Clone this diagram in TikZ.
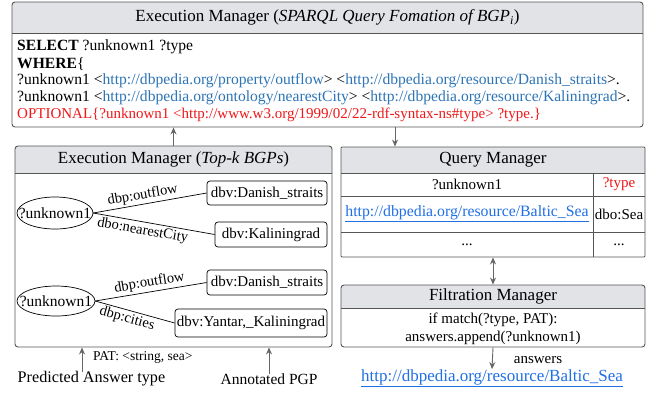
\documentclass[tikz,border=0pt]{standalone}
\usepackage{fontspec}
\setmainfont{Liberation Serif}
\usetikzlibrary{shapes.geometric,arrows.meta,calc}
\definecolor{bordergray}{HTML}{555555}
\definecolor{headfill}{HTML}{E1E3E7}
\definecolor{arrgray}{HTML}{666666}
\definecolor{urlblue}{HTML}{2E75B6}
\definecolor{linkblue}{HTML}{1F6FE5}
\definecolor{sparqlred}{HTML}{F01818}
\newcommand\myfs[1]{\fontsize{#1}{#1}\selectfont}
\tikzset{
  box/.style={draw=bordergray, line width=0.9pt, rounded corners=3pt, inner sep=0pt, rectangle},
  headtext/.style={font=\myfs{17}, inner sep=0pt},
  bodytext/.style={font=\myfs{15.6}, inner sep=0pt, anchor=west},
  gnode/.style={draw=black, line width=0.7pt, rounded corners=3pt, inner sep=0pt, font=\myfs{15}},
  gell/.style={rectangle, inner sep=0pt, font=\myfs{15.5}},
  gellline/.style={draw=black, line width=0.7pt},
  gedge/.style={draw=black, line width=0.7pt},
  elabel/.style={font=\myfs{14.5}, sloped, inner sep=2pt},
  arr/.style={draw=arrgray, line width=0.9pt, -{Stealth[length=7pt,width=6pt]}},
  darr/.style={draw=arrgray, line width=0.9pt, {Stealth[length=7pt,width=6pt]}-{Stealth[length=7pt,width=6pt]}},
  cell/.style={font=\myfs{15}, inner sep=0pt},
}
\begin{document}
\begin{tikzpicture}[x=1pt,y=-1pt]
\useasboundingbox (0,0) rectangle (655,394);
% ---------- top box ----------
\fill[white] (12,2) rectangle (643,127);
\fill[headfill, rounded corners=3pt] (12,2) rectangle (643,33);
\fill[headfill] (12,20) rectangle (643,33);
\draw[bordergray, line width=0.9pt] (12,33) -- (643,33);
\node[box, minimum width=631pt, minimum height=125pt] (tbox) at (327.5,64.5) {};
\node[headtext] (thead) at (327.5,17.5) {Execution Manager (\textit{SPARQL Query Fomation of BGP\textsubscript{i}})};
\node[bodytext] (l1) at (17,47) {\textbf{SELECT} ?unknown1 ?type};
\node[bodytext] (l2) at (17,64) {\textbf{WHERE}\{};
\node[bodytext] (l3) at (17,81) {?unknown1 <\textcolor{urlblue}{http://dbpedia.org/property/outflow}> <\textcolor{urlblue}{http://dbpedia.org/resource/Danish\_straits}>.};
\node[bodytext] (l4) at (17,98) {?unknown1 <\textcolor{urlblue}{http://dbpedia.org/ontology/nearestCity}> <\textcolor{urlblue}{http://dbpedia.org/resource/Kaliningrad}>.};
\node[bodytext, text=sparqlred, font=\myfs{15}] (l5) at (17,115) {OPTIONAL\{?unknown1 <http://www.w3.org/1999/02/22-rdf-syntax-ns\#type> ?type.\}};
% ---------- left box ----------
\fill[white] (15,146) rectangle (332,347);
\fill[headfill, rounded corners=3pt] (15,146) rectangle (332,173);
\fill[headfill] (15,160) rectangle (332,173);
\draw[bordergray, line width=0.9pt] (15,173) -- (332,173);
\node[box, minimum width=317pt, minimum height=201pt] (lbox) at (173.5,246.5) {};
\node[headtext] (lhead) at (173.5,159.5) {Execution Manager (\textit{Top-k BGPs})};
% graph 1
\node[gell, minimum width=76pt, minimum height=32pt] (e1) at (55,213) {?unknown1};
\draw[gellline] (e1.center) ellipse [x radius=38pt, y radius=16pt];
\node[gnode, minimum width=120pt, minimum height=24pt] (r1) at (267,193) {dbv:Danish\_straits};
\node[gnode, minimum width=112pt, minimum height=25pt] (r2) at (271,234.5) {dbv:Kaliningrad};
\draw[gedge] (e1.east) -- node[elabel, above, pos=0.45] {dbp:outflow} (r1.west);
\draw[gedge] (e1.east) -- node[elabel, below, pos=0.42] {dbo:nearestCity} (r2.west);
% graph 2
\node[gell, minimum width=78pt, minimum height=30pt] (e2) at (56,301) {?unknown1};
\draw[gellline] (e2.center) ellipse [x radius=39pt, y radius=15pt];
\node[gnode, minimum width=120pt, minimum height=25pt] (r3) at (267,282.5) {dbv:Danish\_straits};
\node[gnode, minimum width=152pt, minimum height=28pt] (r4) at (251,323) {dbv:Yantar,\_Kaliningrad};
\draw[gedge] (e2.east) -- node[elabel, above, pos=0.5] {dbp:outflow} (r3.west);
\draw[gedge] (e2.east) -- node[elabel, below, pos=0.43] {dbp:cities} (r4.west);
% ---------- query manager ----------
\fill[white] (341,147) rectangle (645,257);
\fill[headfill, rounded corners=3pt] (341,147) rectangle (645,173);
\fill[headfill] (341,160) rectangle (645,173);
\draw[bordergray, line width=0.9pt] (341,173) -- (645,173);
\draw[bordergray, line width=0.9pt] (341,196) -- (645,196);
\draw[bordergray, line width=0.9pt] (341,232) -- (645,232);
\draw[bordergray, line width=0.9pt] (593,173) -- (593,257);
\node[box, minimum width=304pt, minimum height=110pt, rounded corners=1pt] (qm) at (493,202) {};
\node[headtext] (qhead) at (493,160) {Query Manager};
\node[cell] (c11) at (467,184.5) {?unknown1};
\node[cell, text=sparqlred] (c12) at (619,184.5) {?type};
\node[cell, text=linkblue, font=\myfs{15.8}] (c21) at (467,214) {\underline{http://dbpedia.org/resource/Baltic\_Sea}};
\node[cell] (c22) at (619,214) {dbo:Sea};
\node[cell] (c31) at (467,244.5) {...};
\node[cell] (c32) at (619,244.5) {...};
% ---------- filtration manager ----------
\fill[white] (341,285) rectangle (645,347);
\fill[headfill, rounded corners=3pt] (341,285) rectangle (645,308);
\fill[headfill] (341,297) rectangle (645,308);
\draw[bordergray, line width=0.9pt] (341,308) -- (645,308);
\node[box, minimum width=304pt, minimum height=62pt] (fm) at (493,316) {};
\node[headtext] (fhead) at (493,296.5) {Filtration Manager};
\node[cell] (f1) at (493,320) {if match(?type, PAT):};
\node[cell] (f2) at (493,338) {answers.append(?unknown1)};
% ---------- outside labels ----------
\node[font=\myfs{15}, inner sep=0pt] (ans) at (538,360) {answers};
\node[font=\myfs{17}, inner sep=0pt, text=linkblue] (link) at (492,378) {\underline{http://dbpedia.org/resource/Baltic\_Sea}};
\node[font=\myfs{16.2}, inner sep=0pt] (pred) at (91.5,379) {Predicted Answer type};
\node[font=\myfs{15.5}, inner sep=0pt] (annot) at (269,379) {Annotated PGP};
\node[font=\myfs{13.5}, inner sep=0pt, anchor=west] (pat) at (93,357) {PAT: <string, sea>};
% ---------- connectors ----------
\coordinate (qx) at (395,0);
\coordinate (px) at (82,0);
\draw[arr] (lbox.north) -- (lbox.north |- tbox.south);
\draw[arr] (tbox.south -| qx) -- (qm.north -| qx);
\draw[darr] (qm.south) -- (fm.north);
\draw[arr] (fm.south) -- (link.north);
\draw[arr] ([yshift=-1pt]pred.north -| px) -- (lbox.south -| px);
\draw[arr] ([yshift=-1pt]annot.north) -- (annot.north |- lbox.south);
\end{tikzpicture}
\end{document}
